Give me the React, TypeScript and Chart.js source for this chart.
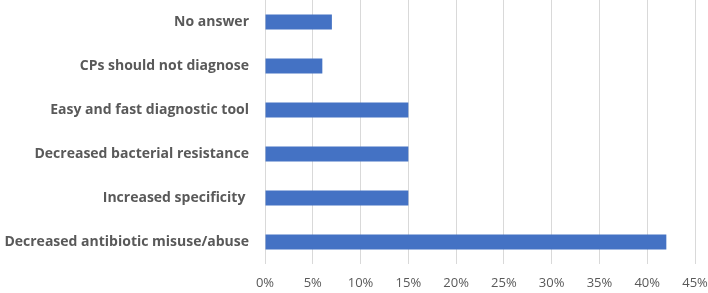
import React, { useEffect, useRef } from "react";
import { Chart, registerables } from "chart.js";

Chart.register(...registerables);

const categories = [
  "No answer",
  "CPs should not diagnose",
  "Easy and fast diagnostic tool",
  "Decreased bacterial resistance",
  "Increased specificity ",
  "Decreased antibiotic misuse/abuse",
];
const values = [7, 6, 15, 15, 15, 42];
const xMin = 0;
const xMax = 45;
const xStep = 5;

export default function App() {
  const ref = useRef<HTMLCanvasElement | null>(null);
  useEffect(() => {
    document.body.style.margin = "0";
    const ctx = ref.current!.getContext("2d")!;
    const chart = new Chart(ctx, {
      type: "bar",
      data: {
        labels: categories,
        datasets: [
          {
            data: values,
            backgroundColor: "#4472C4",
            borderWidth: 0,
            barPercentage: 0.34,
            categoryPercentage: 1,
          },
        ],
      },
      options: {
        indexAxis: "y",
        responsive: false,
        animation: false,
        layout: { padding: { top: 0, right: 13, bottom: 0, left: 0 } },
        plugins: { legend: { display: false }, tooltip: { enabled: false } },
        scales: {
          x: {
            min: xMin,
            max: xMax,
            ticks: {
              stepSize: xStep,
              callback: (v: any) => v + "%",
              color: "#595959",
              font: { family: "Open Sans", size: 13 },
              padding: 11,
            },
            grid: { color: "#D9D9D9", drawTicks: false },
            border: { display: false },
            afterFit: (s: any) => {
              s.height = 29;
              s.paddingLeft = 0;
              s.paddingRight = 0;
            },
          },
          y: {
            ticks: {
              color: "#595959",
              font: { family: "Open Sans", size: 14, weight: "bold" },
              padding: 16,
            },
            grid: { display: false, drawTicks: false },
            border: { display: false },
            afterFit: (s: any) => {
              s.width = 265;
              s.paddingTop = 0;
              s.paddingBottom = 0;
            },
          },
        },
      },
    });
    return () => chart.destroy();
  }, []);
  return (
    <div style={{ position: "absolute", left: 0, top: 0, width: 708, height: 293, background: "#fff" }}>
      <canvas ref={ref} width={708} height={293} />
    </div>
  );
}
